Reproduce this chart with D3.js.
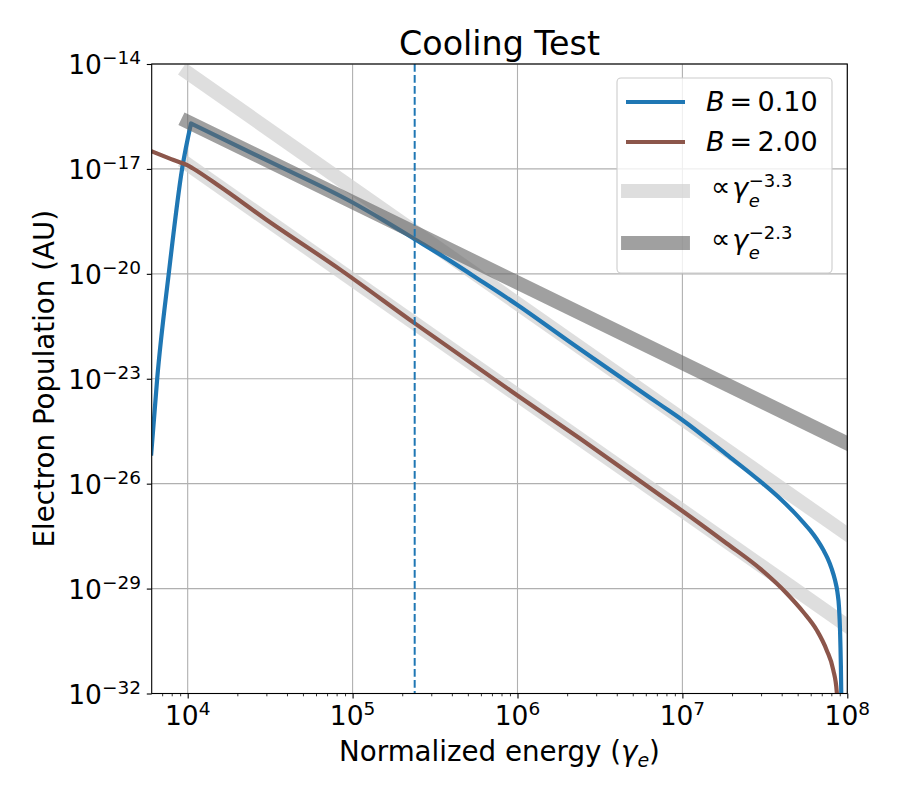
<!DOCTYPE html>
<html>
<head>
<meta charset="utf-8">
<script src="https://cdn.jsdelivr.net/npm/d3@7/dist/d3.min.js"></script>
<style>
  body { margin: 0; background: #fff; }
  text { font-family: "DejaVu Sans", sans-serif; fill: #000; }
</style>
</head>
<body>
<div id="chart"></div>
<script>
// Values, kept as log10 numbers (gamma_e and N)
// B = 0.10: rising injection edge, then the cooled power law with its cut-off
const blueRiseLogGamma = [3.778, 3.815, 3.885, 3.966, 4.02];
const blueRiseLogN = [-25.2, -23.0, -20.0, -17.0, -15.70];
const blueFallLogGamma = [4.02, 4.5, 5.0, 5.188, 5.37, 5.592, 5.794, 6.0, 6.3, 6.461, 6.865, 7.0,
  7.269, 7.471, 7.6, 7.673, 7.73, 7.774, 7.815, 7.855, 7.88, 7.905, 7.925, 7.94, 7.95,
  7.956, 7.961, 7.964, 7.967];
const blueFallLogN = [-15.70, -16.80, -17.96, -18.47, -18.99, -19.63, -20.25, -20.89, -21.89, -22.42, -23.74, -24.18,
  -25.17, -25.93, -26.46, -26.80, -27.09, -27.33, -27.59, -27.90, -28.13, -28.43, -28.75, -29.10, -29.55,
  -30.2, -31.2, -32.2, -33.5];

// B = 2.00
const brownLogGamma = [3.778, 3.9, 4.0, 4.03, 4.2, 4.471, 4.925, 5.375, 6.0, 6.379, 6.865, 7.0,
  7.269, 7.471, 7.633, 7.733, 7.815, 7.875, 7.915, 7.936, 7.945];
const brownLogN = [-16.49, -16.72, -16.90, -16.98, -17.52, -18.43, -19.88, -21.41, -23.48, -24.71, -26.33, -26.78,
  -27.71, -28.43, -29.14, -29.67, -30.19, -30.76, -31.33, -31.95, -33.0];

// reference power laws (end points)
const refGamma = [1e4, 1e8];
const refSteepUpperLogN = [-14.25, -27.45];   // ∝ gamma^-3.3
const refSteepLowerLogN = [-16.87, -30.07];   // ∝ gamma^-3.3
const refShallowLogN = [-15.65, -24.85];      // ∝ gamma^-2.3

const gammaBreak = 2.38e5;

const xTickExp = [4, 5, 6, 7, 8];
const yTickExp = [-14, -17, -20, -23, -26, -29, -32];

const legendItems = [
  { label: "B", value: "= 0.10", color: "#1f77b4" },
  { label: "B", value: "= 2.00", color: "#8c564b" },
  { power: "\u22123.3", color: "lightgray" },
  { power: "\u22122.3", color: "#666666" }
];

// layout
const W = 900, H = 800;
const plot = { left: 151.7, right: 847.3, top: 64, bottom: 693.5 };

const svg = d3.select("#chart").append("svg")
  .attr("width", W)
  .attr("height", H);

const x = d3.scaleLog().domain([6050, 1e8]).range([plot.left, plot.right]);
const y = d3.scaleLog().domain([1e-32, 1e-14]).range([plot.bottom, plot.top]);

svg.append("clipPath").attr("id", "clip")
  .append("rect")
  .attr("x", plot.left).attr("y", plot.top)
  .attr("width", plot.right - plot.left)
  .attr("height", plot.bottom - plot.top);

// grid lines
const grid = svg.append("g");
grid.selectAll(".xg")
  .data(xTickExp.map(e => Math.pow(10, e)))
  .join("line")
  .attr("x1", d => x(d)).attr("x2", d => x(d))
  .attr("y1", plot.top).attr("y2", plot.bottom)
  .attr("stroke", "#b0b0b0").attr("stroke-width", 1.1);
grid.selectAll(".yg")
  .data(yTickExp.map(e => Math.pow(10, e)))
  .join("line")
  .attr("x1", plot.left).attr("x2", plot.right)
  .attr("y1", d => y(d)).attr("y2", d => y(d))
  .attr("stroke", "#b0b0b0").attr("stroke-width", 1.1);

const lines = svg.append("g").attr("clip-path", "url(#clip)");

const toPoints = (lg, ln) => lg.map((g, i) => [Math.pow(10, g), Math.pow(10, ln[i])]);
const curve = d3.line()
  .x(d => x(d[0]))
  .y(d => y(d[1]))
  .curve(d3.curveMonotoneX);
const straight = d3.line()
  .x(d => x(d[0]))
  .y(d => y(d[1]));

// light gray -3.3 reference lines
[refSteepUpperLogN, refSteepLowerLogN].forEach(ref => {
  lines.append("path")
    .datum(refGamma.map((g, i) => [g, Math.pow(10, ref[i])]))
    .attr("d", straight)
    .attr("fill", "none")
    .attr("stroke", "lightgray")
    .attr("stroke-opacity", 0.75)
    .attr("stroke-width", 13.9)
    .attr("stroke-linecap", "square");
});

// simulated spectra (blue drawn as rise + fall so the peak stays sharp)
const bluePath = curve(toPoints(blueRiseLogGamma, blueRiseLogN)) +
  curve(toPoints(blueFallLogGamma, blueFallLogN)).replace(/^M/, "L");
lines.append("path")
  .attr("d", bluePath)
  .attr("fill", "none")
  .attr("stroke", "#1f77b4")
  .attr("stroke-width", 4.2)
  .attr("stroke-linejoin", "round");

lines.append("path")
  .datum(toPoints(brownLogGamma, brownLogN))
  .attr("d", curve)
  .attr("fill", "none")
  .attr("stroke", "#8c564b")
  .attr("stroke-width", 4.2)
  .attr("stroke-linejoin", "round");

// dark gray -2.3 reference line
lines.append("path")
  .datum(refGamma.map((g, i) => [g, Math.pow(10, refShallowLogN[i])]))
  .attr("d", straight)
  .attr("fill", "none")
  .attr("stroke", "#666666")
  .attr("stroke-opacity", 0.62)
  .attr("stroke-width", 13.9)
  .attr("stroke-linecap", "square");

// cooling break
lines.append("line")
  .attr("x1", x(gammaBreak)).attr("x2", x(gammaBreak))
  .attr("y1", plot.top).attr("y2", plot.bottom)
  .attr("stroke", "#1f77b4")
  .attr("stroke-width", 2)
  .attr("stroke-dasharray", "7.7,3.3");

// axes
const xAxis = svg.append("g")
  .attr("transform", `translate(0,${plot.bottom})`)
  .call(d3.axisBottom(x)
    .tickValues(xTickExp.map(e => Math.pow(10, e)))
    .tickFormat("")
    .tickSize(4.9)
    .tickSizeOuter(0));
xAxis.select(".domain").remove();
xAxis.selectAll(".tick line").attr("stroke-width", 1.1);

const minorX = [];
for (let e = 3; e < 8; e++) {
  for (let m = 2; m <= 9; m++) {
    const v = m * Math.pow(10, e);
    if (v >= 6050 && v < 1e8) minorX.push(v);
  }
}
const xMinor = svg.append("g")
  .attr("transform", `translate(0,${plot.bottom})`)
  .call(d3.axisBottom(x).tickValues(minorX).tickFormat("").tickSize(2.8).tickSizeOuter(0));
xMinor.select(".domain").remove();
xMinor.selectAll(".tick line").attr("stroke-width", 0.8);

const yAxis = svg.append("g")
  .attr("transform", `translate(${plot.left},0)`)
  .call(d3.axisLeft(y)
    .tickValues(yTickExp.map(e => Math.pow(10, e)))
    .tickFormat("")
    .tickSize(4.9)
    .tickSizeOuter(0));
yAxis.select(".domain").remove();
yAxis.selectAll(".tick line").attr("stroke-width", 1.1);

// tick labels with superscripts
const xLab = svg.append("g");
xTickExp.forEach(e => {
  const t = xLab.append("text")
    .attr("x", x(Math.pow(10, e)))
    .attr("y", 725)
    .attr("text-anchor", "middle")
    .style("font-size", "26.5px");
  t.append("tspan").text("10");
  t.append("tspan").attr("dy", -10).style("font-size", "18.5px").text(e);
});

const yLab = svg.append("g");
yTickExp.forEach(e => {
  const t = yLab.append("text")
    .attr("x", 141)
    .attr("y", y(Math.pow(10, e)) + 10)
    .attr("text-anchor", "end")
    .style("font-size", "26.5px");
  t.append("tspan").text("10");
  t.append("tspan").attr("dy", -10).style("font-size", "18.5px").text("\u2212" + Math.abs(e));
});

// spines
svg.append("rect")
  .attr("x", plot.left).attr("y", plot.top)
  .attr("width", plot.right - plot.left)
  .attr("height", plot.bottom - plot.top)
  .attr("fill", "none")
  .attr("stroke", "#000")
  .attr("stroke-width", 1.1);

// title and axis labels
svg.append("text")
  .attr("x", (plot.left + plot.right) / 2)
  .attr("y", 55)
  .attr("text-anchor", "middle")
  .style("font-size", "33.3px")
  .text("Cooling Test");

const xl = svg.append("text")
  .attr("x", (plot.left + plot.right) / 2)
  .attr("y", 761)
  .attr("text-anchor", "middle")
  .style("font-size", "27.7px");
xl.append("tspan").text("Normalized energy (");
xl.append("tspan").style("font-style", "italic").text("\u03b3");
xl.append("tspan").attr("dy", 6).style("font-size", "19px").style("font-style", "italic").text("e");
xl.append("tspan").attr("dy", -6).text(")");

svg.append("text")
  .attr("transform", `translate(54,${(plot.top + plot.bottom) / 2}) rotate(-90)`)
  .attr("text-anchor", "middle")
  .style("font-size", "27.7px")
  .text("Electron Population (AU)");

// legend
const legend = svg.append("g");
legend.append("rect")
  .attr("x", 617).attr("y", 78)
  .attr("width", 215).attr("height", 195)
  .attr("rx", 4)
  .attr("fill", "#fff")
  .attr("fill-opacity", 0.8)
  .attr("stroke", "#cccccc")
  .attr("stroke-width", 1.1);

const rowY = [102, 142, 191, 243];
legendItems.forEach((d, i) => {
  const cy = rowY[i];
  if (d.label) {
    legend.append("line")
      .attr("x1", 626).attr("x2", 685)
      .attr("y1", cy).attr("y2", cy)
      .attr("stroke", d.color)
      .attr("stroke-width", 4.2);
    const t = legend.append("text")
      .attr("x", 706).attr("y", cy + 9)
      .style("font-size", "27px");
    t.append("tspan").style("font-style", "italic").text(d.label);
    t.append("tspan").attr("dx", 5).text(d.value.replace("= ", "=\u2009"));
  } else {
    legend.append("line")
      .attr("x1", 628).attr("x2", 683)
      .attr("y1", cy).attr("y2", cy)
      .attr("stroke", d.color)
      .attr("stroke-opacity", i === 2 ? 0.75 : 0.62)
      .attr("stroke-width", 13.9)
      .attr("stroke-linecap", "square");
    const prop = legend.append("text")
      .attr("x", 711).attr("y", cy + 5)
      .style("font-size", "27px")
      .text("\u221d");
    const gx = 711 + prop.node().getComputedTextLength() + 2;
    const gam = legend.append("text")
      .attr("x", gx).attr("y", cy + 6)
      .style("font-size", "27px")
      .style("font-style", "italic")
      .text("\u03b3");
    const sx = gx + gam.node().getComputedTextLength() + 0.5;
    legend.append("text")
      .attr("x", sx).attr("y", cy + 16)
      .style("font-size", "18px")
      .style("font-style", "italic")
      .text("e");
    legend.append("text")
      .attr("x", sx).attr("y", cy - 4.5)
      .style("font-size", "18px")
      .text(d.power);
  }
});
</script>
</body>
</html>
